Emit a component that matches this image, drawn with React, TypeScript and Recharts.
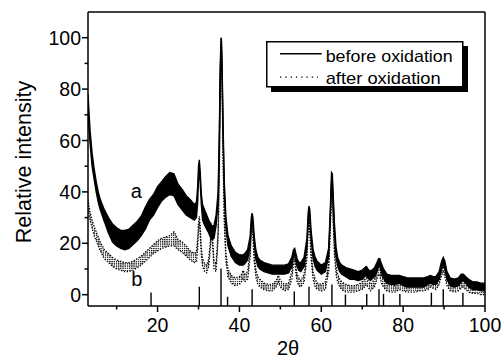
import React from 'react';
import { ComposedChart, Area, XAxis, YAxis, ReferenceLine, ReferenceDot, Legend } from 'recharts';

const FONT = '"Liberation Sans", Arial, Helvetica, sans-serif';

const seriesNames = ['before oxidation', 'after oxidation'];
const xAxisTitle = '2θ';
const yAxisTitle = 'Relative intensity';
const xDomain: [number, number] = [3, 100];
const yDomain: [number, number] = [-4.4, 110];
const xTicks = [10, 20, 30, 40, 50, 60, 70, 80, 90, 100];
const yTicks = [0, 10, 20, 30, 40, 50, 60, 70, 80, 90, 100];
const curveTags = [
  { text: 'a', x: 14.8, y: 40.3 },
  { text: 'b', x: 14.9, y: 6.2 },
];

// [2θ, low, high] of the noisy trace before oxidation (curve a)
const beforeOxidation: [number, number, number][] = [
  [3, 70, 78], [3.5, 59, 64], [4, 50, 55], [4.5, 45, 49], [5, 40, 44], [5.5, 36, 40], [6, 33, 37], [7, 28.5, 33], [8, 24, 30], [9, 20.5, 27.5],
  [10, 19, 26], [11, 18, 25], [12, 17.5, 25], [13, 18, 25.5], [14, 19.5, 27], [15, 21, 28.5], [16, 23, 30.5], [17, 25.5, 34], [18, 29, 37], [19, 31, 39],
  [20, 34, 42], [21, 36.5, 44], [22, 38, 46], [23, 39, 47.5], [24, 38.5, 47], [25, 35, 43], [26, 33, 41], [27, 31, 38.5], [28, 30, 37], [29, 29, 35],
  [29.5, 30, 36], [29.8, 36, 42], [30.0, 45, 50], [30.2, 50, 52.5], [30.4, 44, 48], [30.7, 35, 39], [31, 29, 35], [31.5, 27, 33], [32, 25.5, 31], [32.5, 24, 29],
  [33, 22, 27.5], [33.2, 21.5, 27], [33.4, 21.5, 26.5], [33.8, 22, 27], [34.3, 27, 31], [34.8, 36, 40], [35.1, 60, 64], [35.3, 84, 88], [35.5, 97, 100], [35.6, 96, 99],
  [35.8, 82, 86], [36.0, 62, 66], [36.3, 40, 44], [36.7, 26, 30], [37.2, 19, 23], [38, 15, 19], [39, 12.5, 16.5], [40, 11.5, 15.5], [40.5, 11.5, 15.5], [40.9, 11.5, 15.5],
  [41.3, 12, 16], [42, 13.5, 17.5], [42.6, 19, 22.5], [42.9, 27, 30], [43.1, 30, 31.7], [43.3, 27, 30], [43.6, 20, 23], [44, 14, 17.5], [44.5, 11, 14.5], [45, 10, 13.5],
  [46, 9, 12.5], [47, 8.5, 12], [48, 8, 11.5], [49, 8, 11.5], [49.5, 8, 11.5], [50, 8, 11.5], [51, 8, 11.5], [52, 8.5, 12], [52.8, 11, 14.5], [53.2, 15, 17.5],
  [53.5, 16, 18], [53.8, 13, 16], [54.1, 11, 14], [54.5, 9.5, 12.5], [55, 9, 12.5], [55.8, 11, 14.5], [56.5, 19, 22], [56.8, 29, 32], [57.0, 33, 34.5], [57.2, 30, 33],
  [57.5, 22, 25], [58, 14, 17.5], [58.5, 11, 14.5], [59, 9.5, 13], [60, 8, 11.5], [61, 9, 12.5], [61.8, 15, 18], [62.2, 30, 33], [62.5, 44, 47.5], [62.7, 44, 47],
  [62.9, 36, 39], [63.2, 25, 28], [63.6, 15, 18.5], [64, 11, 14.5], [64.5, 9, 12.5], [65, 8, 11.5], [66, 7, 10.5], [67, 6, 10], [68, 6, 9.5], [69, 5.5, 9],
  [70, 6, 9.5], [70.6, 7, 10.5], [71.0, 7.5, 11], [71.4, 6.5, 10], [72, 5.5, 9], [73, 7, 10.5], [73.6, 9, 12.5], [74.0, 11, 14], [74.3, 11, 14], [74.7, 8.5, 12],
  [75.2, 6.5, 10], [76, 4.5, 8], [77, 4, 7.5], [78, 4, 7.5], [79, 4.5, 7.5], [80, 3.5, 7], [81, 3, 6.5], [82, 3, 6.5], [83, 3, 6.5], [84, 3, 6.5],
  [85, 3, 6.5], [86, 4, 7], [86.7, 4.5, 7.5], [87.3, 4, 7], [88, 4, 7], [88.8, 6, 9], [89.4, 10, 13], [89.8, 12, 14.5], [90.2, 10, 13], [90.7, 6, 9],
  [91.5, 3.5, 6.5], [92.5, 3, 6], [93.5, 3.5, 6.5], [94.2, 5, 8], [94.7, 5.5, 8], [95.3, 4.5, 7], [96, 3, 6], [97, 2, 5], [98, 2, 5], [99, 1.5, 4.5],
  [100, 1.5, 4.5],
];

// [2θ, low, high] of the noisy trace after oxidation (curve b)
const afterOxidation: [number, number, number][] = [
  [3, 33, 37], [3.5, 29, 32], [4, 26, 29], [4.5, 23, 26.5], [5, 21, 24.5], [5.5, 19, 22.5], [6, 17, 20.5], [7, 14, 17.5], [8, 12.5, 16], [9, 11, 14.5],
  [10, 10, 13.5], [11, 9.5, 13], [12, 9, 12.5], [13, 9, 12.5], [14, 9.5, 13], [15, 10.5, 14], [16, 11.5, 15], [17, 13, 16.5], [18, 14.5, 18], [19, 16, 19.5],
  [20, 17, 21], [21, 18, 22], [22, 18.5, 22.5], [23, 19, 23], [24, 19, 24.5], [25, 17.5, 21.5], [26, 16.5, 20.5], [27, 15, 19], [28, 13.5, 17], [29, 12.5, 16],
  [29.5, 13, 17], [29.8, 18, 22], [30.0, 25, 28], [30.2, 28, 30.5], [30.4, 24, 27], [30.7, 15, 18], [31, 11, 14], [31.5, 9, 12], [32, 8.5, 11.5], [32.5, 11, 14],
  [33, 20, 23], [33.2, 25, 28], [33.4, 20, 23], [33.8, 10, 13], [34.3, 9, 12], [34.8, 22, 25], [35.1, 48, 52], [35.3, 78, 82], [35.5, 96, 99], [35.6, 97, 100],
  [35.8, 78, 82], [36.0, 52, 56], [36.3, 28, 31], [36.7, 13, 16], [37.2, 7, 10], [38, 4.5, 7.5], [39, 3.5, 6.5], [40, 4, 7], [40.5, 5, 8], [40.9, 6.5, 9.5],
  [41.3, 5, 8], [42, 6, 9], [42.6, 14, 17], [42.9, 24, 26.5], [43.1, 27, 29], [43.3, 22, 25], [43.6, 13, 16], [44, 7, 10], [44.5, 4, 7], [45, 3, 6],
  [46, 2, 4.5], [47, 1.5, 4], [48, 1.5, 4], [49, 3, 5.5], [49.5, 5, 7.5], [50, 3, 5.5], [51, 1.5, 4], [52, 2, 4.5], [52.8, 6, 9], [53.2, 12, 15],
  [53.5, 13.5, 16], [53.8, 8, 11], [54.1, 5, 8], [54.5, 3.5, 6.5], [55, 3, 5.5], [55.8, 5, 8], [56.5, 14, 17], [56.8, 25, 28], [57.0, 28.5, 30.5], [57.2, 24, 27],
  [57.5, 14, 17], [58, 6, 9], [58.5, 3, 6], [59, 2, 4.5], [60, 1.5, 4], [61, 2, 5], [61.8, 9, 12], [62.2, 25, 28], [62.5, 39, 42], [62.7, 38, 41],
  [62.9, 28, 31], [63.2, 16, 19], [63.6, 8, 11], [64, 5, 8], [64.5, 3, 6], [65, 2, 5], [66, 1, 4], [67, 1, 3.5], [68, 1, 3.5], [69, 1.5, 4],
  [70, 2, 5], [70.6, 3, 6], [71.0, 4, 6.5], [71.4, 3, 5.5], [72, 1.5, 4], [73, 3, 6], [73.6, 6, 9], [74.0, 8, 10.5], [74.3, 7.5, 10], [74.7, 4.5, 7.5],
  [75.2, 3, 6], [76, 1.5, 4.5], [77, 1, 4], [78, 1, 3.5], [79, 2, 4.5], [80, 1.5, 4], [81, 1, 3.5], [82, 1, 3.5], [83, 1, 3.5], [84, 1.5, 4],
  [85, 1.5, 4], [86, 2, 4.5], [86.7, 3, 5.5], [87.3, 2.5, 5], [88, 2, 4.5], [88.8, 4, 7], [89.4, 7.5, 10], [89.8, 9, 11], [90.2, 7, 9.5], [90.7, 3.5, 6.5],
  [91.5, 1.5, 4.5], [92.5, 1, 4], [93.5, 1.5, 4], [94.2, 2.5, 5], [94.7, 3, 5.5], [95.3, 2, 4.5], [96, 1, 3.5], [97, 0.5, 3], [98, 0.5, 3], [99, 0, 2.5],
  [100, 0, 2.5],
];

// reference pattern lines (2θ, relative height)
const stickPositions = [18.4, 30.2, 35.5, 37.1, 43.1, 53.4, 57.0, 62.6, 65.9, 71.1, 74.1, 75.2, 79.2, 86.9, 89.8, 94.6];
const stickHeights = [0.9, 3.1, 10.2, -0.8, 2.1, 1.2, 3.1, 4.0, 0.1, 0.3, 2.1, 0.3, 0.3, 0.8, 2.1, 0.8];

// merge both traces on their 2θ values
const rowMap = new Map<number, any>();
beforeOxidation.forEach(([x, lo, hi]) => {
  rowMap.set(x, { ...(rowMap.get(x) || { x }), a: [lo, hi] });
});
afterOxidation.forEach(([x, lo, hi]) => {
  rowMap.set(x, { ...(rowMap.get(x) || { x }), b: [lo, hi] });
});
const chartData = Array.from(rowMap.values()).sort((p, q) => p.x - q.x);

const XTick = (props: any) => {
  const { x, y, payload } = props;
  const v = payload.value;
  const major = v % 20 === 0;
  return (
    <g>
      <line x1={x} y1={y} x2={x} y2={y + (major ? 6 : 3.5)} stroke="#000" strokeWidth={1.5} />
      {major && (
        <text x={x} y={y + 25.5} textAnchor="middle" fontSize={19.5} fontFamily={FONT} fill="#000">
          {v}
        </text>
      )}
    </g>
  );
};

const YTick = (props: any) => {
  const { x, y, payload } = props;
  const v = payload.value;
  const major = v % 20 === 0;
  return (
    <g>
      <line x1={x} y1={y} x2={x - (major ? 6 : 3.5)} y2={y} stroke="#000" strokeWidth={1.5} />
      {major && (
        <text x={x - 7} y={y} dy="0.36em" textAnchor="end" fontSize={19.5} fontFamily={FONT} fill="#000">
          {v}
        </text>
      )}
    </g>
  );
};

const renderYTitle = () => (
  <text
    x={15}
    y={154}
    transform="rotate(-90 15 154)"
    textAnchor="middle"
    dy="0.36em"
    fontSize={21.5}
    fontFamily={FONT}
    fill="#000"
  >
    {yAxisTitle}
  </text>
);

const renderXTitle = () => (
  <text x={280} y={347} textAnchor="middle" fontSize={20} fontFamily={FONT} fill="#000">
    {xAxisTitle}
  </text>
);

const LegendBox = () => (
  <svg width={210} height={56} style={{ display: 'block' }}>
    <rect x={5} y={5} width={197} height={46} fill="#000" />
    <rect x={0.75} y={0.75} width={196} height={45} fill="#fff" stroke="#000" strokeWidth={1.5} />
    <line x1={14} y1={12.8} x2={55.7} y2={12.8} stroke="#000" strokeWidth={1.5} />
    <text x={59.7} y={21.2} fontSize={17} fontFamily={FONT} fill="#000" textLength={127} lengthAdjust="spacingAndGlyphs">
      {seriesNames[0]}
    </text>
    <line x1={14} y1={36.2} x2={52} y2={36.2} stroke="#000" strokeWidth={1.3} strokeDasharray="1.3 4" />
    <text x={59.7} y={42.8} fontSize={17} fontFamily={FONT} fill="#000" textLength={115} lengthAdjust="spacingAndGlyphs">
      {seriesNames[1]}
    </text>
  </svg>
);

export default function App() {
  return (
    <div style={{ position: 'absolute', left: 8, top: 8, width: 493, height: 350 }}>
      <ComposedChart
        width={493}
        height={350}
        data={chartData}
        margin={{ top: 4, right: 16, bottom: 12, left: 0 }}
      >
        <defs>
          <pattern id="dotfill" width="2.2" height="2.2" patternUnits="userSpaceOnUse">
            <rect x="0" y="0" width="1.3" height="1.3" fill="#000" />
          </pattern>
        </defs>
        <XAxis
          dataKey="x"
          type="number"
          domain={xDomain}
          allowDataOverflow
          ticks={xTicks}
          interval={0}
          height={40}
          tickSize={0}
          tickMargin={0}
          tick={<XTick />}
          axisLine={{ stroke: '#000', strokeWidth: 1.5 }}
          tickLine={false}
          label={{ value: xAxisTitle, content: renderXTitle }}
        />
        <YAxis
          type="number"
          domain={yDomain}
          allowDataOverflow
          ticks={yTicks}
          interval={0}
          width={80}
          tickSize={0}
          tickMargin={0}
          tick={<YTick />}
          axisLine={{ stroke: '#000', strokeWidth: 1.5 }}
          tickLine={false}
          label={{ value: yAxisTitle, content: renderYTitle }}
        />
        <ReferenceLine y={yDomain[1]} stroke="#000" strokeWidth={1.5} />
        <ReferenceLine x={xDomain[1]} stroke="#000" strokeWidth={1.5} />
        {stickPositions.map((p, i) => (
          <ReferenceLine
            key={'s' + i}
            segment={[
              { x: p, y: yDomain[0] },
              { x: p, y: stickHeights[i] },
            ]}
            stroke="#000"
            strokeWidth={1.4}
          />
        ))}
        <Area
          dataKey="a"
          name={seriesNames[0]}
          type="linear"
          stroke="#000"
          strokeWidth={1.4}
          fill="#000"
          fillOpacity={1}
          connectNulls
          isAnimationActive={false}
          dot={false}
          activeDot={false}
        />
        <Area
          dataKey="b"
          name={seriesNames[1]}
          type="linear"
          stroke="#000"
          strokeWidth={1.3}
          strokeDasharray="1.3 1.6"
          fill="url(#dotfill)"
          fillOpacity={1}
          connectNulls
          isAnimationActive={false}
          dot={false}
          activeDot={false}
        />
        {curveTags.map((t) => (
          <ReferenceDot
            key={t.text}
            x={t.x}
            y={t.y}
            r={0}
            fill="none"
            stroke="none"
            label={{ value: t.text, position: 'center', fontSize: 20, fill: '#000', fontFamily: FONT }}
          />
        ))}
        <Legend
          layout="horizontal"
          verticalAlign="middle"
          align="center"
          content={() => <LegendBox />}
          wrapperStyle={{ left: 258, top: 32.5, width: 210, height: 56, position: 'absolute' }}
        />
      </ComposedChart>
    </div>
  );
}
